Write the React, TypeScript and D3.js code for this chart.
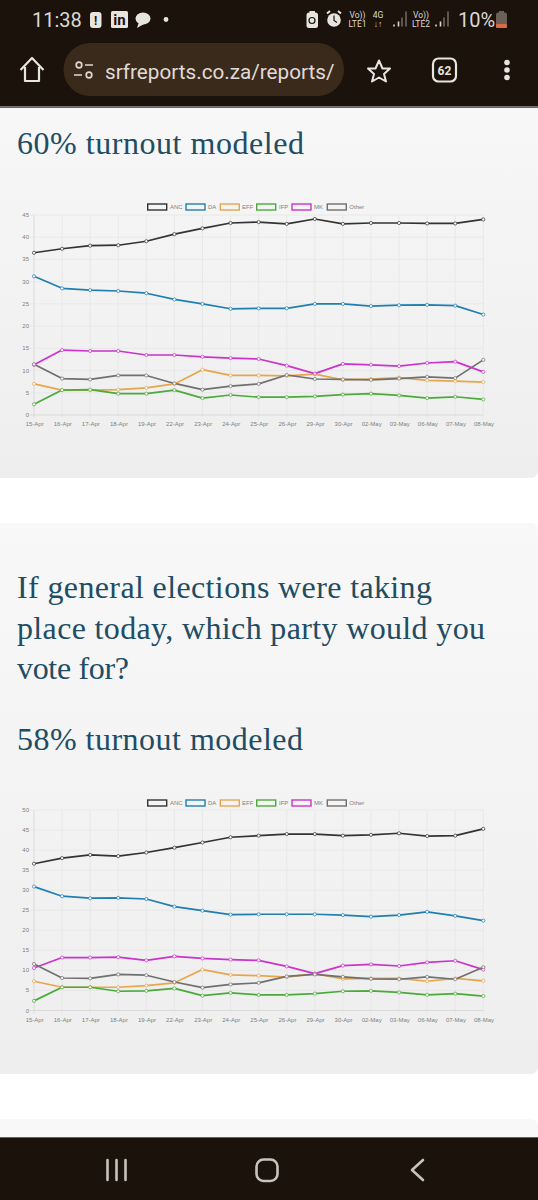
import React, { useEffect, useRef } from "react";
import * as d3 from "d3";

const categories = ["15-Apr","16-Apr","17-Apr","18-Apr","19-Apr","22-Apr","23-Apr","24-Apr","25-Apr","26-Apr","29-Apr","30-Apr","02-May","03-May","06-May","07-May","08-May"];
const parties = ["ANC","DA","EFF","IFP","MK","Other"];
const partyColors = ["#333333","#1f7fb0","#e8a64c","#4aab3a","#cc33cc","#707070"];

const anc60 = [36.5,37.4,38.1,38.2,39.1,40.7,42,43.2,43.4,43,44.1,43,43.2,43.2,43.1,43.1,44];
const da60 = [31.2,28.5,28.1,27.9,27.4,26,25,23.9,24,24,25,25,24.5,24.7,24.8,24.6,22.6];
const eff60 = [7,5.6,5.6,5.7,6.1,7,10.2,8.9,8.9,8.8,9.2,7.9,8.1,8.4,7.8,7.6,7.4];
const ifp60 = [2.4,5.6,5.7,4.8,4.8,5.6,3.8,4.5,4,4,4.2,4.6,4.8,4.4,3.8,4.1,3.5];
const mk60 = [11.3,14.6,14.4,14.4,13.5,13.5,13.1,12.8,12.6,11.1,9.3,11.5,11.3,11,11.7,12,9.7];
const other60 = [11.4,8.2,8,8.9,8.9,7.1,5.7,6.5,7,9,8.1,8,7.9,8.2,8.6,8.3,12.4];

const anc58 = [36.6,38,38.8,38.5,39.4,40.6,41.9,43.2,43.6,44,44,43.6,43.8,44.2,43.5,43.6,45.3];
const da58 = [30.9,28.5,28,28.1,27.8,25.9,24.9,23.9,24,24,24,23.8,23.4,23.8,24.6,23.6,22.4];
const eff58 = [7.3,5.8,5.8,5.8,6.2,6.9,10.2,8.9,8.7,8.3,9.2,7.9,8,8,7.3,8,7.4];
const ifp58 = [2.4,5.8,5.8,4.8,4.9,5.5,3.7,4.4,3.9,3.9,4.2,4.8,4.9,4.5,3.9,4.2,3.6];
const mk58 = [10.6,13.2,13.2,13.3,12.5,13.5,13,12.7,12.5,11,9.2,11.2,11.5,11.1,12,12.4,10.2];
const other58 = [11.6,8.1,8,9,8.8,7.1,5.7,6.5,6.9,8.5,9,8.4,7.9,7.8,8.4,7.8,10.8];

const series60 = [anc60,da60,eff60,ifp60,mk60,other60];
const series58 = [anc58,da58,eff58,ifp58,mk58,other58];
const titleFont = "'Liberation Serif', serif";
const titleColor = "#214c63";
const axisFont = "Arial, 'Liberation Sans', sans-serif";
const barColor = "#1a120b";
const iconColor = "#e8e4de";

function LineChart({ series, yMax, top, bottom, legendY }: { series: number[][]; yMax: number; top: number; bottom: number; legendY: number }) {
  const ref = useRef<SVGGElement>(null);
  useEffect(() => {
    const g = d3.select(ref.current);
    g.selectAll("*").remove();
    const x = d3.scalePoint<string>().domain(categories).range([34, 483.3]);
    const y = d3.scaleLinear().domain([0, yMax]).range([bottom, top]);
    const yTicks = d3.range(0, yMax + 1, 5);

    g.append("g").selectAll("line").data(categories).join("line")
      .attr("x1", d => x(d)!).attr("x2", d => x(d)!)
      .attr("y1", top).attr("y2", bottom + 3)
      .attr("stroke", (_, i) => i === 0 ? "#d4d4d4" : "#e6e6e6").attr("stroke-width", 0.8);
    g.append("g").selectAll("line").data(yTicks).join("line")
      .attr("x1", 30).attr("x2", 483.3)
      .attr("y1", d => y(d)).attr("y2", d => y(d))
      .attr("stroke", d => d === 0 ? "#d4d4d4" : "#e6e6e6").attr("stroke-width", 0.8);
    g.append("g").selectAll("text").data(yTicks).join("text")
      .attr("x", 29).attr("y", d => y(d) + 2)
      .attr("text-anchor", "end").attr("font-size", 6).attr("font-family", axisFont).attr("fill", "#808080")
      .text(d => d);
    g.append("g").selectAll("text").data(categories).join("text")
      .attr("x", d => x(d)! + 0.7).attr("y", bottom + 11)
      .attr("text-anchor", "middle").attr("font-size", 6).attr("font-family", axisFont).attr("fill", "#808080")
      .text(d => d);

    const line = d3.line<number>().x((_, i) => x(categories[i])!).y(d => y(d));
    series.forEach((vals, k) => {
      g.append("path").attr("d", line(vals)).attr("fill", "none")
        .attr("stroke", partyColors[k]).attr("stroke-width", 1.7).attr("stroke-linejoin", "round");
    });
    series.forEach((vals, k) => {
      g.append("g").selectAll("circle").data(vals).join("circle")
        .attr("cx", (_, i) => x(categories[i])!).attr("cy", d => y(d)).attr("r", 1.6)
        .attr("fill", "#f6f6f6").attr("stroke", partyColors[k]).attr("stroke-width", 0.7);
    });

    const legendXs = [147.7, 186, 220.3, 256.7, 292, 327.3];
    const labelXs = [170, 208, 242, 279, 314, 349.3];
    parties.forEach((p, k) => {
      g.append("rect").attr("x", legendXs[k]).attr("y", legendY - 3).attr("width", 19).attr("height", 6)
        .attr("fill", "#f4f4f4").attr("stroke", partyColors[k]).attr("stroke-width", 1.4);
      g.append("text").attr("x", labelXs[k]).attr("y", legendY + 2).attr("font-size", 6)
        .attr("font-family", axisFont).attr("fill", "#808080").text(p);
    });
  }, [series, yMax, top, bottom, legendY]);
  return <g ref={ref} />;
}

export default function App() {
  return (
    <svg width={538} height={1200} viewBox="0 0 538 1200" style={{ position: "fixed", left: 0, top: 0, background: "#fff" }}>
      <defs>
        <linearGradient id="cardFill" x1="0" y1="0" x2="0" y2="1">
          <stop offset="0" stopColor="#f8f8f8" />
          <stop offset="1" stopColor="#eeeeee" />
        </linearGradient>
      </defs>
      <rect x={-10} y={60} width={548} height={418} rx={7} fill="url(#cardFill)" />
      <rect x={-10} y={523} width={548} height={551} rx={7} fill="url(#cardFill)" />
      <rect x={-10} y={1119} width={548} height={60} rx={7} fill="#f8f8f8" />

      <g fontFamily={titleFont} fill={titleColor} fontSize={32} lengthAdjust="spacing">
        <text x={17} y={154} textLength={287}>60% turnout modeled</text>
        <text x={17} y={598} textLength={415}>If general elections were taking</text>
        <text x={17} y={639} textLength={468}>place today, which party would you</text>
        <text x={17} y={679} textLength={112}>vote for?</text>
        <text x={17} y={750} textLength={286}>58% turnout modeled</text>
      </g>

      <LineChart series={series60} yMax={45} top={215} bottom={415} legendY={207} />
      <LineChart series={series58} yMax={50} top={810} bottom={1010.5} legendY={803} />

      {/* phone status bar and browser toolbar */}
      <rect x={0} y={0} width={538} height={106.500} fill={barColor} />
      <rect x={0} y={106.500} width={538} height={1.500} fill="#6b6458" />
      <g fontFamily="Roboto, sans-serif" fill="#ddd8d2">
        <text x={32} y={26.500} fontSize={20}>11:38</text>
        <rect x={90} y={12} width={11.500} height={16} rx={3} fill={iconColor} />
        <text x={95.700} y={25} fontSize={12} fontWeight={700} textAnchor="middle" fill={barColor}>!</text>
        <rect x={111} y={11} width={17} height={17} rx={1.500} fill={iconColor} />
        <text x={119.500} y={25} fontSize={15} fontWeight={700} textAnchor="middle" fill={barColor}>in</text>
        <ellipse cx={143} cy={18.500} rx={7.500} ry={6} fill={iconColor} />
        <path d="M139 22L137 28L144 24Z" fill={iconColor} />
        <circle cx={166} cy={19.500} r={2.400} fill={iconColor} />
        <rect x={306.500} y={12.500} width={11.500} height={15.500} rx={2.500} fill={iconColor} />
        <rect x={309.500} y={11} width={5.500} height={3} fill={iconColor} />
        <circle cx={312} cy={20.500} r={3} fill="none" stroke={barColor} strokeWidth={1.200} />
        <circle cx={334} cy={20} r={6.800} fill={iconColor} />
        <path d="M334 15.500V20.500L337 22.500" fill="none" stroke={barColor} strokeWidth={1.200} />
        <path d="M327 13.500L330 11M341 13.500L338 11" stroke={iconColor} strokeWidth={2} />
        <text x={357.500} y={18} fontSize={8.500} textAnchor="middle">Vo))</text>
        <text x={357.500} y={26.500} fontSize={8.500} textAnchor="middle">LTE1</text>
        <text x={378} y={18} fontSize={8.500} textAnchor="middle">4G</text>
        <text x={378} y={26.500} fontSize={8.500} textAnchor="middle">↓↑</text>
        <text x={421} y={18} fontSize={8.500} textAnchor="middle">Vo))</text>
        <text x={421} y={26.500} fontSize={8.500} textAnchor="middle">LTE2</text>
        <path d="M394 26.500v-2M398.500 26.500v-5" stroke="#ddd8d2" strokeWidth={1.600} />
        <path d="M402 26.500v-9M406 26.500v-15" stroke="#6f675e" strokeWidth={1.600} />
        <path d="M436 26.500v-2M440.500 26.500v-5" stroke="#ddd8d2" strokeWidth={1.600} />
        <path d="M444 26.500v-9M448 26.500v-15" stroke="#6f675e" strokeWidth={1.600} />
        <text x={458} y={26.500} fontSize={20}>10%</text>
        <rect x={496} y={12.500} width={11} height={15.500} rx={2} fill="#6a6056" />
        <rect x={499} y={11} width={5} height={3} fill="#6a6056" />
        <rect x={496} y={24} width={11} height={4} rx={1} fill="#d96a44" />
      </g>
      <rect x={63.500} y={43} width={280.500} height={53} rx={26.500} fill="#3a2a1c" />
      <path d="M20.500 70L32 58L43.500 70M25 67V81H39V67" fill="none" stroke={iconColor} strokeWidth={2.200} strokeLinejoin="round" />
      <g stroke="#ddd8d2" strokeWidth={1.700} fill="none">
        <circle cx={79} cy={65} r={2.800} />
        <path d="M85 65H93M74 75H82" />
        <circle cx={89} cy={75} r={2.800} />
      </g>
      <text x={105} y={78.500} fontFamily="Roboto, sans-serif" fontSize={20.700} fill="#e0dbd5">srfreports.co.za/reports/</text>
      <path d="M368 68.500H375.500L379 60.500L382.500 68.500H390L384 74L386 81.500L379 77.500L372 81.500L374 74Z" fill="none" stroke={iconColor} strokeWidth={2} strokeLinejoin="round" />
      <rect x={433} y={58.500} width={23} height={23} rx={5.500} fill="none" stroke={iconColor} strokeWidth={2.200} />
      <text x={444.500} y={74.500} textAnchor="middle" fontFamily="Roboto, sans-serif" fontSize={12} fontWeight={700} fill={iconColor}>62</text>
      <circle cx={507} cy={62.500} r={2.800} fill={iconColor} />
      <circle cx={507} cy={70} r={2.800} fill={iconColor} />
      <circle cx={507} cy={77.500} r={2.800} fill={iconColor} />

      {/* phone navigation bar */}
      <rect x={0} y={1137.500} width={538} height={62.500} fill={barColor} />
      <rect x={0} y={1137} width={538} height={1} fill="#6b6458" />
      <path d="M107.500 1160V1180M116.500 1160V1180M125.500 1160V1180" stroke="#c8c3bd" strokeWidth={2.600} strokeLinecap="round" />
      <rect x={256.500} y={1159.500} width={21} height={21.500} rx={7} fill="none" stroke="#c8c3bd" strokeWidth={2.600} />
      <path d="M423 1160L412 1170L423 1180" fill="none" stroke="#c8c3bd" strokeWidth={2.600} strokeLinecap="round" strokeLinejoin="round" />
    </svg>
  );
}
